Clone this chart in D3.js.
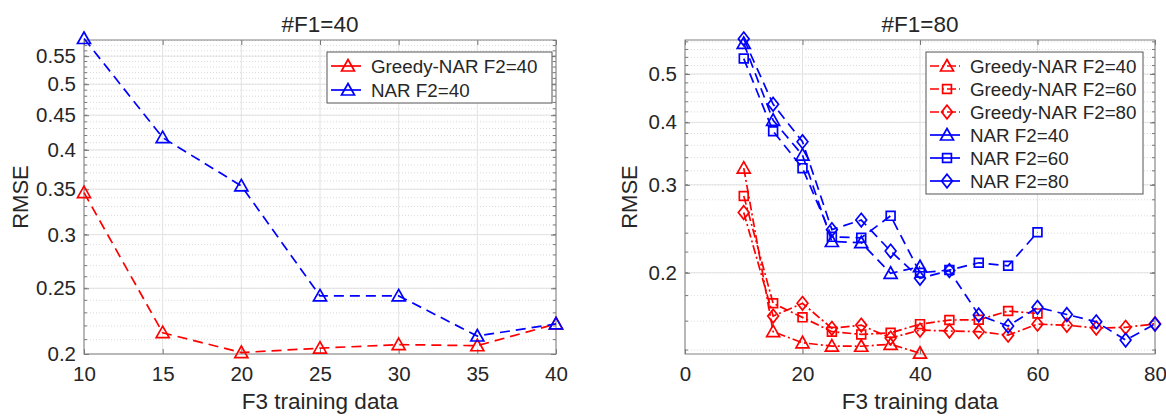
<!DOCTYPE html>
<html>
<head>
<meta charset="utf-8">
<script src="https://cdn.jsdelivr.net/npm/d3@7"></script>
<style>
  body { margin: 0; background: #fff; }
  text { font-family: "Liberation Sans", Arial, sans-serif; fill: #262626; }
</style>
</head>
<body>
<div id="chart"></div>
<script>
// ---- data ----
const leftX = [10, 15, 20, 25, 30, 35, 40];
const leftGreedy40 = [0.346, 0.215, 0.201, 0.204, 0.2065, 0.2057, 0.2215];
const leftNar40 = [0.584, 0.417, 0.354, 0.2436, 0.2436, 0.2126, 0.2215];
const leftXTicks = [10, 15, 20, 25, 30, 35, 40];
const leftYTicks = [0.2, 0.25, 0.3, 0.35, 0.4, 0.45, 0.5, 0.55];

const rightX40 = [10, 15, 20, 25, 30, 35, 40];
const rightX60 = [10, 15, 20, 25, 30, 35, 40, 45, 50, 55, 60];
const rightX80 = [10, 15, 20, 25, 30, 35, 40, 45, 50, 55, 60, 65, 70, 75, 80];
const greedy40 = [0.324, 0.1524, 0.1448, 0.1426, 0.1425, 0.1438, 0.138];
const greedy60 = [0.285, 0.1737, 0.1628, 0.1524, 0.1505, 0.1516, 0.1578, 0.1608, 0.161, 0.1676, 0.1658];
const greedy80 = [0.264, 0.1638, 0.1737, 0.1548, 0.1571, 0.148, 0.1535, 0.1529, 0.1524, 0.150, 0.1578, 0.157, 0.155, 0.1555, 0.158];
const nar40 = [0.576, 0.404, 0.344, 0.231, 0.2297, 0.1995, 0.2056];
const nar60 = [0.537, 0.384, 0.324, 0.236, 0.235, 0.260, 0.200, 0.2025, 0.2094, 0.2065, 0.241];
const nar80 = [0.588, 0.435, 0.366, 0.244, 0.255, 0.221, 0.195, 0.202, 0.1646, 0.1564, 0.1705, 0.165, 0.1595, 0.1466, 0.1578];
const rightXTicks = [0, 20, 40, 60, 80];
const rightYTicks = [0.2, 0.3, 0.4, 0.5];

const RED = "#ff0000", BLUE = "#0000ff";
const DASH = "10,6", DASHDOT = "9,3,2,3";

const svg = d3.select("#chart").append("svg")
    .attr("width", 1166)
    .attr("height", 416);

// marker shapes (MATLAB-like)
function markerPath(type) {
    if (type == "tri") return "M0,-6.5L6.5,5L-6.5,5Z";
    if (type == "sq") return "M-4.4,-4.4H4.4V4.4H-4.4Z";
    return "M0,-6.8L5.4,0L0,6.8L-5.4,0Z"; // diamond
}

function drawPanel(p) {
    let x = d3.scaleLinear().domain(p.xDomain).range([p.left, p.right]);
    let y = d3.scaleLog().domain(p.yDomain).range([p.bottom, p.top]);
    let g = svg.append("g");

    // minor grid (dotted)
    g.selectAll(".minor")
        .data(p.minor)
        .enter()
        .append("line")
        .attr("x1", p.left).attr("x2", p.right)
        .attr("y1", d => y(d)).attr("y2", d => y(d))
        .attr("stroke", "#d0d0d0")
        .attr("stroke-width", 0.8)
        .attr("stroke-dasharray", "1,2");

    // major grid
    g.selectAll(".hgrid")
        .data(p.yTicks)
        .enter()
        .append("line")
        .attr("x1", p.left).attr("x2", p.right)
        .attr("y1", d => y(d)).attr("y2", d => y(d))
        .attr("stroke", "#e2e2e2");
    g.selectAll(".vgrid")
        .data(p.xTicks)
        .enter()
        .append("line")
        .attr("x1", d => x(d)).attr("x2", d => x(d))
        .attr("y1", p.top).attr("y2", p.bottom)
        .attr("stroke", "#e2e2e2");

    // axes with inward ticks
    g.append("g")
        .attr("transform", `translate(0,${p.bottom})`)
        .call(d3.axisBottom(x).tickValues(p.xTicks).tickSize(-5).tickPadding(12))
        .call(a => a.select(".domain").remove())
        .call(a => a.selectAll("line").attr("stroke", "#777"))
        .call(a => a.selectAll("text").style("font-size", "20.5px").attr("fill", "#262626"));
    g.append("g")
        .attr("transform", `translate(0,${p.top})`)
        .call(d3.axisTop(x).tickValues(p.xTicks).tickSize(-5).tickFormat(""))
        .call(a => a.select(".domain").remove())
        .call(a => a.selectAll("line").attr("stroke", "#777"));
    g.append("g")
        .attr("transform", `translate(${p.left},0)`)
        .call(d3.axisLeft(y).tickValues(p.yTicks).tickSize(-5).tickPadding(8).tickFormat(d => d3.format("")(d)))
        .call(a => a.select(".domain").remove())
        .call(a => a.selectAll("line").attr("stroke", "#777"))
        .call(a => a.selectAll("text").style("font-size", "20.5px").attr("fill", "#262626"));
    g.append("g")
        .attr("transform", `translate(${p.right},0)`)
        .call(d3.axisRight(y).tickValues(p.yTicks).tickSize(-5).tickFormat(""))
        .call(a => a.select(".domain").remove())
        .call(a => a.selectAll("line").attr("stroke", "#777"));

    // minor ticks on y
    [[p.left, 3], [p.right, -3]].forEach(([xx, len]) => {
        g.selectAll(null)
            .data(p.minor)
            .enter()
            .append("line")
            .attr("x1", xx).attr("x2", xx + len)
            .attr("y1", d => y(d)).attr("y2", d => y(d))
            .attr("stroke", "#777");
    });

    // box
    g.append("rect")
        .attr("x", p.left).attr("y", p.top)
        .attr("width", p.right - p.left).attr("height", p.bottom - p.top)
        .attr("fill", "none")
        .attr("stroke", "#808080");

    // series
    let line = d3.line().x(d => x(d[0])).y(d => y(d[1]));
    p.series.forEach(s => {
        let pts = s.xs.map((v, i) => [v, s.ys[i]]);
        g.append("path")
            .datum(pts)
            .attr("d", line)
            .attr("fill", "none")
            .attr("stroke", s.color)
            .attr("stroke-width", 1.7)
            .attr("stroke-dasharray", s.dash);
        g.selectAll(null)
            .data(pts)
            .enter()
            .append("path")
            .attr("d", markerPath(s.marker))
            .attr("transform", d => `translate(${x(d[0])},${y(d[1])})`)
            .attr("fill", "none")
            .attr("stroke", s.color)
            .attr("stroke-width", 1.7);
    });

    // title and labels
    let cx = (p.left + p.right) / 2;
    svg.append("text")
        .attr("x", cx).attr("y", 32)
        .attr("text-anchor", "middle")
        .style("font-size", "22.5px")
        .text(p.title);
    svg.append("text")
        .attr("x", cx).attr("y", 409)
        .attr("text-anchor", "middle")
        .style("font-size", "22.5px")
        .text("F3 training data");
    svg.append("text")
        .attr("transform", `translate(${p.ylabelX},197) rotate(-90)`)
        .attr("text-anchor", "middle")
        .style("font-size", "22px")
        .text("RMSE");

    // legend
    let L = p.legend;
    let n = p.series.length;
    let lg = svg.append("g").attr("transform", `translate(${L.x},${L.y})`);
    lg.append("rect")
        .attr("width", L.w)
        .attr("height", 14 + (n - 1) * L.row + 13)
        .attr("fill", "#fff")
        .attr("stroke", "#555");
    p.series.forEach((s, i) => {
        let yy = 14 + i * L.row;
        lg.append("line")
            .attr("x1", 4).attr("x2", 34)
            .attr("y1", yy).attr("y2", yy)
            .attr("stroke", s.color)
            .attr("stroke-width", 1.7)
            .attr("stroke-dasharray", s.legendDash);
        lg.append("path")
            .attr("d", markerPath(s.marker))
            .attr("transform", `translate(21,${yy})`)
            .attr("fill", "none")
            .attr("stroke", s.color)
            .attr("stroke-width", 1.7);
        lg.append("text")
            .attr("x", 44).attr("y", yy + 7)
            .style("font-size", "18.8px")
            .text(s.name);
    });
}

drawPanel({
    title: "#F1=40",
    left: 84, right: 556, top: 40, bottom: 354,
    xDomain: [10, 40], yDomain: [0.2, 0.581],
    xTicks: leftXTicks, yTicks: leftYTicks,
    minor: d3.range(21, 59).map(v => v / 100),
    ylabelX: 28,
    legend: {x: 327, y: 52, w: 225, row: 24},
    series: [
        {name: "Greedy-NAR F2=40", xs: leftX, ys: leftGreedy40, color: RED, dash: DASH, legendDash: null, marker: "tri"},
        {name: "NAR F2=40", xs: leftX, ys: leftNar40, color: BLUE, dash: DASH, legendDash: null, marker: "tri"}
    ]
});

drawPanel({
    title: "#F1=80",
    left: 685, right: 1155, top: 40, bottom: 354,
    xDomain: [0, 80], yDomain: [0.1375, 0.585],
    xTicks: rightXTicks, yTicks: rightYTicks,
    minor: d3.range(14, 59, 2).map(v => v / 100),
    ylabelX: 637,
    legend: {x: 926, y: 52, w: 217, row: 23},
    series: [
        {name: "Greedy-NAR F2=40", xs: rightX40, ys: greedy40, color: RED, dash: DASHDOT, legendDash: DASHDOT, marker: "tri"},
        {name: "Greedy-NAR F2=60", xs: rightX60, ys: greedy60, color: RED, dash: DASHDOT, legendDash: DASHDOT, marker: "sq"},
        {name: "Greedy-NAR F2=80", xs: rightX80, ys: greedy80, color: RED, dash: DASHDOT, legendDash: DASHDOT, marker: "dia"},
        {name: "NAR F2=40", xs: rightX40, ys: nar40, color: BLUE, dash: DASH, legendDash: null, marker: "tri"},
        {name: "NAR F2=60", xs: rightX60, ys: nar60, color: BLUE, dash: DASH, legendDash: null, marker: "sq"},
        {name: "NAR F2=80", xs: rightX80, ys: nar80, color: BLUE, dash: DASH, legendDash: null, marker: "dia"}
    ]
});
</script>
</body>
</html>
